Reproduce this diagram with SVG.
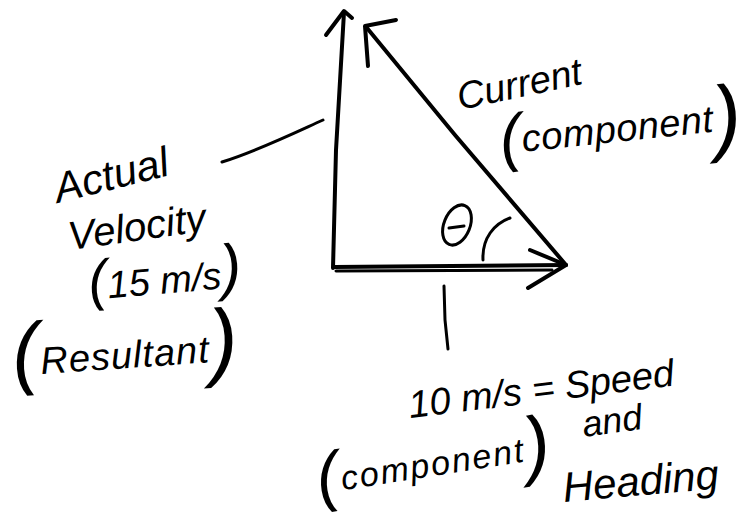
<svg xmlns="http://www.w3.org/2000/svg" width="749" height="521" viewBox="0 0 749 521">
<style>
.ink{fill:none;stroke:#000;stroke-width:4;stroke-linecap:round;stroke-linejoin:round}
.thin{fill:none;stroke:#000;stroke-width:3;stroke-linecap:round}
.hand{font-family:"Liberation Sans","DejaVu Sans",sans-serif;font-style:italic;fill:#000}
</style>
<rect width="749" height="521" fill="#fff"/>
<g id="connectors">
  <path class="ink" d="M333 268 L336 150 L344 12"/>
  <path class="ink" d="M326 35 L344 11 L352 18"/>
  <path class="ink" d="M566 265 L455 135 L367 28"/>
  <path class="ink" d="M368 66 L365 26 L396 20"/>
  <path class="ink" d="M334 267 L566 265"/>
  <path class="thin" d="M336 271 L552 270"/>
  <path class="ink" d="M530 250 L566 265 L528 288"/>
  <path class="thin" d="M483 260 C482 238 494 224 510 218"/>
  <path class="thin" d="M222 162 C255 152 290 135 323 120"/>
  <path class="thin" d="M444 286 L445 320 L448 349"/>
</g>
<g id="theta">
  <ellipse cx="457" cy="225" rx="13" ry="21" transform="rotate(22 457 225)" class="thin"/>
  <path class="thin" d="M449 228 L464 226"/>
</g>
<g id="current-label">
  <text class="hand" font-size="38" transform="translate(460 110) rotate(-12)">Current</text>
  <text class="hand" font-size="38" letter-spacing="0.5" transform="translate(502 160) rotate(-6)"><tspan font-size="64">(</tspan><tspan dy="-6">component</tspan><tspan font-size="84" dy="14" font-weight="300">)</tspan></text>
</g>
<g id="actual-label">
  <text class="hand" font-size="42" transform="translate(58 203) rotate(-14)">Actual</text>
  <text class="hand" font-size="40" transform="translate(70 250) rotate(-8)">Velocity</text>
  <text class="hand" font-size="38" transform="translate(90 300) rotate(-5)"><tspan font-size="56">(</tspan>15 m/s<tspan font-size="62">)</tspan></text>
  <text class="hand" font-size="38" letter-spacing="1" transform="translate(14 380) rotate(-4)"><tspan font-size="80">(</tspan><tspan dy="-4">Resultant</tspan><tspan font-size="86" dy="8">)</tspan></text>
</g>
<g id="speed-label">
  <text class="hand" font-size="38" transform="translate(410 418) rotate(-7)">10 m/s = Speed</text>
  <text class="hand" font-size="36" transform="translate(584 437) rotate(-8)">and</text>
  <text class="hand" font-size="42" transform="translate(564 502) rotate(-5)">Heading</text>
  <text class="hand" font-size="34" letter-spacing="2" transform="translate(320 500) rotate(-9)"><tspan font-size="66">(</tspan><tspan dy="-6">component</tspan><tspan font-size="76" dy="10">)</tspan></text>
</g>
</svg>
